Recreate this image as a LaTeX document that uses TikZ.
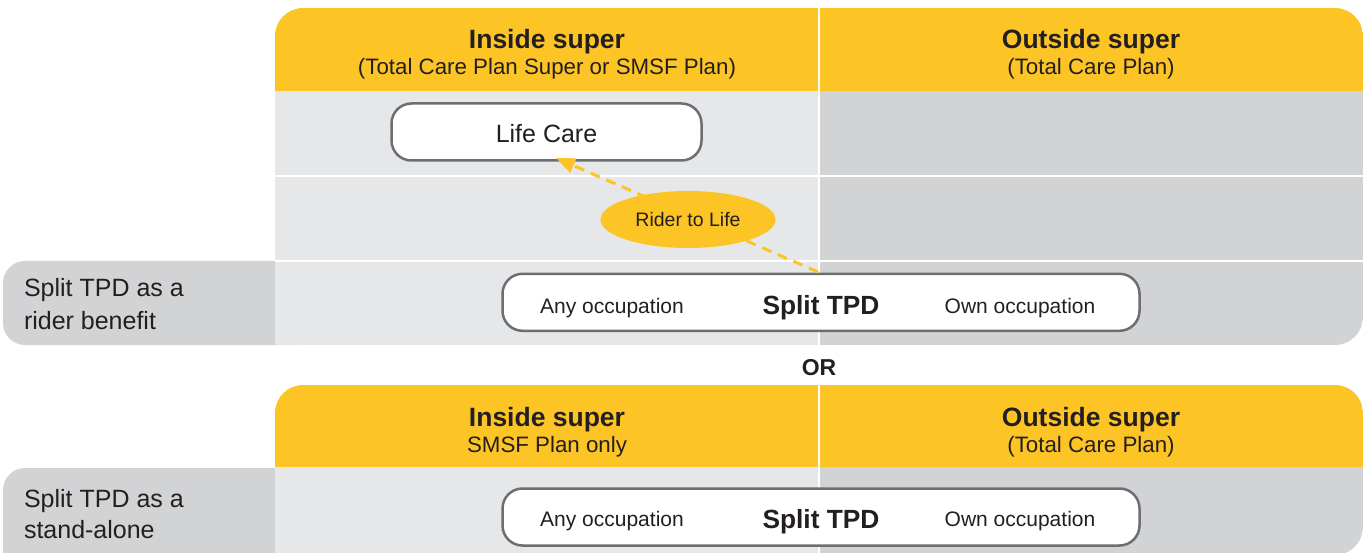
\documentclass[tikz,border=0pt]{standalone}
\usepackage{fontspec}
\setmainfont{Liberation Sans}
\usetikzlibrary{shapes.geometric,arrows.meta}
\definecolor{ylw}{HTML}{FDC426}
\definecolor{lgrey}{HTML}{E6E7E8}
\definecolor{dgrey}{HTML}{D1D3D4}
\definecolor{bord}{HTML}{6D6E71}
\definecolor{ink}{HTML}{231F20}
\begin{document}
\begin{tikzpicture}[x=1pt,y=-1pt,
  every node/.style={inner sep=0pt, outer sep=0pt},
  hdr/.style={anchor=base, text=ink, font=\fontsize{26.5}{30}\selectfont\bfseries},
  sub/.style={anchor=base, text=ink, font=\fontsize{22.3}{26}\selectfont},
  occ/.style={anchor=base, text=ink, font=\fontsize{21}{24}\selectfont},
  tpd/.style={anchor=base, text=ink, font=\fontsize{26.3}{30}\selectfont\bfseries},
  lbl/.style={anchor=base west, text=ink, font=\fontsize{25}{28}\selectfont},
  whiteline/.style={white, line width=2pt},
  boxshape/.style={draw=bord, line width=2.5pt, fill=white, rounded corners=20pt},
  riderarrow/.style={ylw, line width=3pt, dash pattern=on 10pt off 7pt,
     -{Triangle[length=19pt,width=15pt]}}
]
\useasboundingbox (0,0) rectangle (1365,553);

% left label panels
\fill[dgrey, rounded corners=22pt] (3,261) rectangle (320,345);
\fill[dgrey, rounded corners=22pt] (3,468) rectangle (320,600);

% top panel
\begin{scope}
  \clip[rounded corners=28pt] (275,8) rectangle (1363,345) [sharp corners] (275,150) rectangle (600,345);
  \fill[lgrey] (275,91) rectangle (819,345);
  \fill[dgrey] (819,91) rectangle (1363,345);
  \fill[ylw] (275,8) rectangle (1363,91);
  \draw[whiteline] (819,8) -- (819,345);
  \draw[whiteline] (275,176) -- (1363,176);
  \draw[whiteline] (275,261) -- (1363,261);
\end{scope}

% bottom panel
\begin{scope}
  \clip[rounded corners=28pt] (275,385) rectangle (1363,555) [sharp corners] (275,500) rectangle (600,555);
  \fill[lgrey] (275,467) rectangle (819,555);
  \fill[dgrey] (819,467) rectangle (1363,555);
  \fill[ylw] (275,385) rectangle (1363,467);
  \draw[whiteline] (819,385) -- (819,555);
\end{scope}

% boxes
\node[boxshape, minimum width=310pt, minimum height=57pt] (lifecare) at (546.5,132) {};
\node[boxshape, minimum width=637pt, minimum height=57pt] (tpdA) at (821,302.3) {};
\node[boxshape, minimum width=637pt, minimum height=57pt] (tpdB) at (821,517) {};

% arrow
\coordinate (arrstart) at (818,272);
\coordinate (arrtip) at (556,158);
\draw[riderarrow] (arrstart) -- (arrtip);

% ellipse
\node[ellipse, fill=ylw, minimum width=175pt, minimum height=57pt] (rider) at (688,219.5) {};
\node[anchor=base, text=ink, font=\fontsize{19.5}{22}\selectfont] (ridertxt) at (688,227) {Rider to Life};

% headers
\node[hdr] (h1) at (547,49) {Inside super};
\node[sub] (h1s) at (547,75) {(Total Care Plan Super or SMSF Plan)};
\node[hdr] (h2) at (1091,49) {Outside super};
\node[sub] (h2s) at (1091,75) {(Total Care Plan)};
\node[hdr] (h3) at (547,426) {Inside super};
\node[sub] (h3s) at (547,452) {SMSF Plan only};
\node[hdr] (h4) at (1091,426) {Outside super};
\node[sub] (h4s) at (1091,452) {(Total Care Plan)};

% box texts
\node[anchor=base, text=ink, font=\fontsize{25}{28}\selectfont] (lifecaretxt) at (546.5,143) {Life Care};
\node[occ] (anyA) at (612,313) {Any occupation};
\node[tpd] (splitA) at (821,314) {Split TPD};
\node[occ] (ownA) at (1020,313) {Own occupation};
\node[occ] (anyB) at (612,526) {Any occupation};
\node[tpd] (splitB) at (821,528) {Split TPD};
\node[occ] (ownB) at (1020,526) {Own occupation};

% OR
\node[anchor=base, text=ink, font=\fontsize{23}{26}\selectfont\bfseries] (ortxt) at (819,375) {OR};

% left labels
\node[lbl] (l1a) at (24,297) {Split TPD as a};
\node[lbl] (l1b) at (24,329) {rider benefit};
\node[lbl] (l2a) at (24,507) {Split TPD as a};
\node[lbl] (l2b) at (24,538) {stand-alone};
\end{tikzpicture}
\end{document}
